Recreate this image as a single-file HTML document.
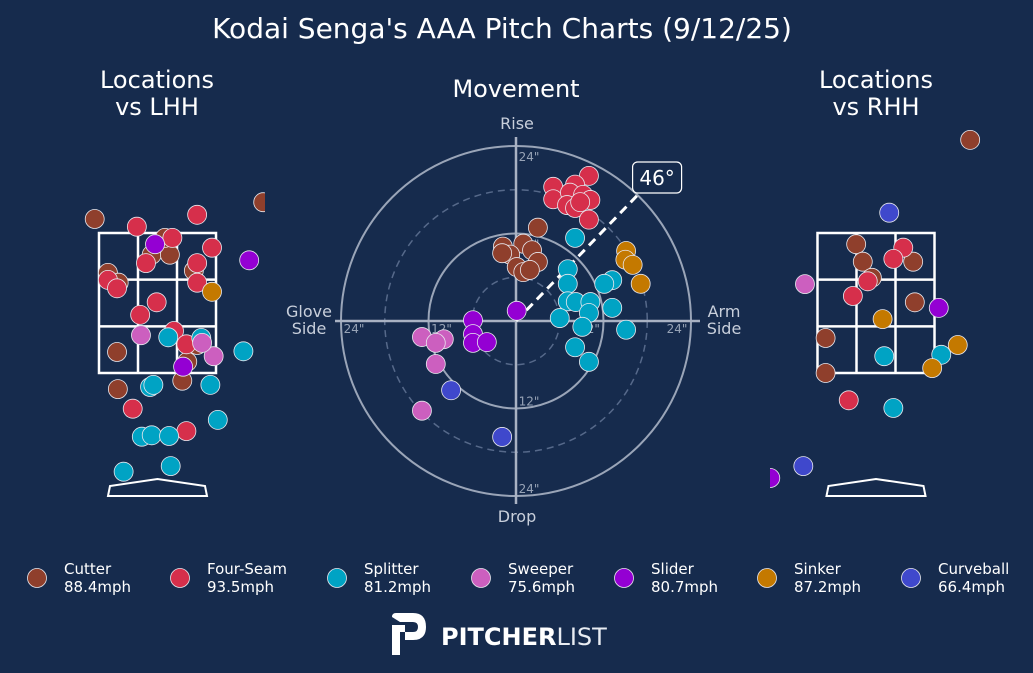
<!DOCTYPE html>
<html><head><meta charset="utf-8">
<style>
html,body{margin:0;padding:0;background:#162b4d;}
svg{display:block;font-family:"DejaVu Sans","Liberation Sans",sans-serif;}
</style></head>
<body>
<svg id="chart" width="1033" height="673" viewBox="0 0 1033 673" xmlns="http://www.w3.org/2000/svg">
<rect width="1033" height="673" fill="#162b4d"/>
<defs>
<clipPath id="clipL"><rect x="80" y="130" width="185" height="390"/></clipPath>
<clipPath id="clipR"><rect x="770" y="120" width="230" height="400"/></clipPath>
</defs>
<text x="502" y="38" fill="#fff" font-size="28" text-anchor="middle">Kodai Senga's AAA Pitch Charts (9/12/25)</text>
<g fill="#fff" font-size="24" text-anchor="middle">
<text x="157" y="88">Locations</text>
<text x="157" y="115">vs LHH</text>
<text x="516" y="97">Movement</text>
<text x="876" y="88">Locations</text>
<text x="876" y="115">vs RHH</text>
</g>
<g fill="#c8cfdb" font-size="16" text-anchor="middle">
<text x="517" y="129">Rise</text>
<text x="517" y="522">Drop</text>
<text x="309" y="317">Glove</text>
<text x="309" y="334">Side</text>
<text x="724" y="317">Arm</text>
<text x="724" y="334">Side</text>
</g>
<g id="mov"></g>
<g id="locL" clip-path="url(#clipL)"></g>
<g id="locR" clip-path="url(#clipR)"></g>
<g id="legend"></g>
<g>
<path d="M392 625 L392 655 L400 655 L400 632 L413 632 Q418 632 418 627 Q418 622 413 622 L400 622 L392 617 Q392 613 396 613 L413 613 Q426 613 426 627 Q426 640 413 640 L405 640 L405 625 Z" fill="#fff"/>
<text x="441" y="645" fill="#fff" font-size="24" font-weight="bold">PITCHER<tspan font-weight="normal" fill="#e8ecf2">LIST</tspan></text>
</g>
</svg>
<script>
const NS="http://www.w3.org/2000/svg";
const pitchTypes=["Cutter","Four-Seam","Splitter","Sweeper","Slider","Sinker","Curveball"];
const pitchColors=["#8f3f2c","#d62f4b","#00a3c4","#cc5fbf","#9400d3","#c47900","#3f48cc"];
const legendOrder=["Cutter","Four-Seam","Splitter","Sweeper","Slider","Sinker","Curveball"];
const legendSpeeds=["88.4mph","93.5mph","81.2mph","75.6mph","80.7mph","87.2mph","66.4mph"];
// movement: horizontal break (in), induced vertical break (in)
const movType=["Four-Seam","Four-Seam","Four-Seam","Four-Seam","Four-Seam","Four-Seam","Four-Seam","Four-Seam","Four-Seam","Four-Seam","Four-Seam",
"Cutter","Cutter","Cutter","Cutter","Cutter","Cutter","Cutter","Cutter","Cutter","Cutter",
"Splitter","Splitter","Splitter","Splitter","Splitter","Splitter","Splitter","Splitter","Splitter","Splitter","Splitter","Splitter","Splitter","Splitter","Splitter",
"Sinker","Sinker","Sinker","Sinker","Slider","Slider","Slider","Slider","Slider",
"Sweeper","Sweeper","Sweeper","Sweeper","Sweeper","Curveball","Curveball"];
const movHB=[5.1,10.0,8.1,5.1,7.4,9.2,10.2,7.0,8.1,10.0,8.8, 3.0,-1.8,1.0,2.2,-0.8,3.0,0.1,1.0,1.9,-1.9,
8.1,7.1,7.1,13.2,12.1,7.1,8.2,10.2,10.0,13.2,6.0,9.1,15.1,8.1,10.0, 15.1,15.0,16.0,17.1, 0.1,-5.9,-5.9,-5.9,-4.0,
-12.9,-9.9,-11.0,-11.0,-12.9, -8.9,-1.9];
const movIVB=[18.4,19.9,18.7,16.7,17.6,17.3,16.6,15.9,15.5,13.9,16.3, 12.8,10.2,10.6,9.7,9.1,8.1,7.4,6.7,7.0,9.3,
11.4,7.1,5.1,5.6,5.1,2.7,2.6,2.6,1.1,1.8,0.4,-0.8,-1.2,-3.6,-5.6, 9.6,8.4,7.7,5.1, 1.4,0.1,-1.8,-3.0,-2.9,
-2.2,-2.5,-3.0,-5.9,-12.3, -9.5,-15.9];
const armAngle=46;
const ringLevels=[6,12,18,24];
const ringLabels=['12"','24"'];
// LHH locations
const lType=["Cutter","Cutter","Cutter","Cutter","Cutter","Cutter","Cutter","Cutter","Cutter","Cutter","Cutter","Cutter","Cutter",
"Four-Seam","Four-Seam","Four-Seam","Four-Seam","Four-Seam","Four-Seam","Four-Seam","Four-Seam","Four-Seam","Four-Seam","Four-Seam","Four-Seam","Four-Seam","Four-Seam","Four-Seam",
"Splitter","Splitter","Splitter","Splitter","Splitter","Splitter","Splitter","Splitter","Splitter","Splitter","Splitter","Splitter",
"Sweeper","Sweeper","Sweeper","Slider","Slider","Slider","Sinker"];
const lX=[-0.76,1.28,-0.07,0.15,-0.60,-0.47,0.44,-0.49,0.48,0.36,-0.48,0.30,0.09,
0.48,-0.25,0.18,0.66,-0.14,0.48,-0.60,-0.49,0.48,-0.01,-0.21,0.20,0.35,-0.30,0.35,
0.13,0.53,1.04,-0.09,-0.05,0.64,0.73,-0.19,-0.07,0.14,0.16,-0.41, -0.20,0.68,0.54, -0.03,1.11,0.31, 0.66];
const lZ=[3.70,3.94,3.19,3.19,2.93,2.79,2.96,1.80,1.90,1.66,1.27,1.39,3.43,
3.76,3.59,3.43,3.29,3.07,3.07,2.83,2.71,2.79,2.51,2.33,2.10,1.91,0.99,0.67,
2.01,2.00,1.81,1.30,1.33,1.33,0.83,0.59,0.61,0.60,0.17,0.09, 2.04,1.74,1.93, 3.34,3.11,1.59, 2.66];
// RHH locations
const rType=["Cutter","Cutter","Cutter","Cutter","Cutter","Cutter","Cutter","Cutter",
"Four-Seam","Four-Seam","Four-Seam","Four-Seam","Four-Seam","Splitter","Splitter","Splitter",
"Curveball","Curveball","Sweeper","Slider","Slider","Sinker","Sinker","Sinker"];
const rX=[1.14,-0.24,-0.16,-0.05,0.45,0.47,-0.61,-0.61, 0.33,0.21,-0.10,-0.28,-0.33, 0.79,0.10,0.21, 0.16,-0.88, -0.86, 0.76,-1.28, 0.08,0.99,0.68];
const rZ=[4.83,3.34,3.09,2.86,3.09,2.51,2.00,1.50, 3.29,3.13,2.81,2.60,1.11, 1.76,1.74,1.00, 3.79,0.17, 2.77, 2.43,0.00, 2.27,1.90,1.57];

function el(tag,attrs,parent){const e=document.createElementNS(NS,tag);for(const k in attrs)e.setAttribute(k,attrs[k]);parent.appendChild(e);return e;}
function colorOf(t){return pitchColors[pitchTypes.indexOf(t)];}

// Movement
const mov=document.getElementById('mov');
const MC={x:516,y:321}, PPI=175/24;
const mx=v=>MC.x+v*PPI, my=v=>MC.y-v*PPI;
ringLevels.forEach(r=>{
  const c=el('circle',{cx:MC.x,cy:MC.y,r:r*PPI,fill:'none',stroke:r%12===0?'#9aa5b8':'#56698a','stroke-width':r%12===0?2:1.5,'stroke-dasharray':r%12===0?'none':'7 5'},mov);
  
  
});
let ax=el('line',{x1:MC.x,y1:137,x2:MC.x,y2:504,stroke:'#a9b2c3','stroke-width':2.5},mov);


ax=el('line',{x1:335,y1:MC.y,x2:700,y2:MC.y,stroke:'#a9b2c3','stroke-width':2.5},mov);


[[12,0],[24,1]].forEach(([r,i])=>{
  const off=r===24?-9:-9;
  [[MC.x+13,my(r)+15],[MC.x+13,my(-r)-3],[mx(-r)+13,MC.y+12],[mx(r)-14,MC.y+12]].forEach(p=>{
    const t=el('text',{x:p[0],y:p[1],fill:'#97a3b6','font-size':12,'text-anchor':'middle'},mov);
    t.textContent=ringLabels[i];
    
    
  });
});
const a=armAngle*Math.PI/180;
const armLine=el('line',{x1:MC.x,y1:MC.y,x2:mx(24.4*Math.cos(a)),y2:my(24.4*Math.sin(a)),stroke:'#fff','stroke-width':3,'stroke-dasharray':'9 6'},mov);


const bx=mx(24.4*Math.cos(a)), by=my(24.4*Math.sin(a));
const box=el('rect',{x:bx-7,y:by-31,width:49,height:31,rx:5,fill:'#162b4d',stroke:'#fff','stroke-width':1.2},mov);


const bt=el('text',{x:bx+17.5,y:by-8,fill:'#fff','font-size':20,'text-anchor':'middle'},mov);
bt.textContent=armAngle+'°';


movHB.forEach((h,i)=>{
  const d=el('circle',{cx:mx(h),cy:my(movIVB[i]),r:9.5,fill:colorOf(movType[i]),stroke:'#e8e8ee','stroke-width':0.8},mov);
  
  
});

// Location plots
function loc(gid,cx,types,xs,zs){
  const g=document.getElementById(gid);
  const sx=v=>cx+v*82.6, sz=v=>373-(v-1.5)*70;
  const zl=sx(-17/24), zr=sx(17/24), zt=sz(3.5), zb=sz(1.5);
  const zone=el('rect',{x:zl,y:zt,width:zr-zl,height:zb-zt,fill:'none',stroke:'#fff','stroke-width':2.5},g);
  
  
  for(let k=1;k<3;k++){
    const vx=zl+(zr-zl)*k/3, hy=zt+(zb-zt)*k/3;
    const l1=el('line',{x1:vx,y1:zt,x2:vx,y2:zb,stroke:'#fff','stroke-width':2.5},g);
    
    
    const l2=el('line',{x1:zl,y1:hy,x2:zr,y2:hy,stroke:'#fff','stroke-width':2.5},g);
    
    
  }
  const plate=el('path',{d:`M${cx-49.5} 496 L${cx-47.5} 486 L${cx} 479 L${cx+47.5} 486 L${cx+49.5} 496 Z`,fill:'none',stroke:'#fff','stroke-width':2},g);
  
  
  xs.forEach((x,i)=>{
    const d=el('circle',{cx:sx(x),cy:sz(zs[i]),r:9.5,fill:colorOf(types[i]),stroke:'#e8e8ee','stroke-width':0.8},g);
    
    
  });
}
loc('locL',157.5,lType,lX,lZ);
loc('locR',876,rType,rX,rZ);

// Legend
const lg=document.getElementById('legend');
const legX=[37,180,337,481,624,767,911];
legendOrder.forEach((t,i)=>{
  const c=el('circle',{cx:legX[i],cy:578,r:9.5,fill:colorOf(t),stroke:'#e8e8ee','stroke-width':0.8},lg);
  
  
  const t1=el('text',{x:legX[i]+27,y:574,fill:'#fff','font-size':15},lg);
  t1.textContent=t;
  
  
  const t2=el('text',{x:legX[i]+27,y:592,fill:'#fff','font-size':15},lg);
  t2.textContent=legendSpeeds[i];
  
  
});
</script>
</body></html>
